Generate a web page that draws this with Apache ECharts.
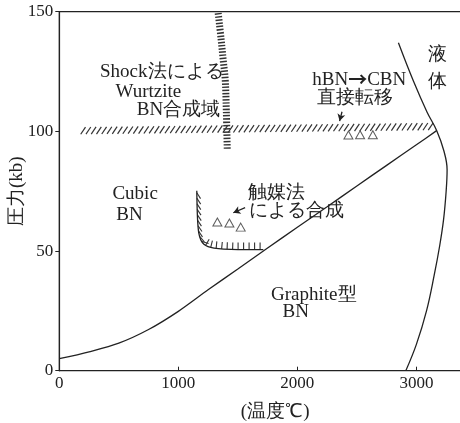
<!DOCTYPE html>
<html>
<head>
<meta charset="utf-8">
<script src="https://cdn.jsdelivr.net/npm/echarts@6/dist/echarts.min.js"></script>
<style>
  html, body { margin: 0; padding: 0; background: #fff; }
  #chart { width: 460px; height: 423px; }
</style>
</head>
<body>
<div id="chart"></div>
<script>
// Axis ticks
const xTicks = [0, 1000, 2000, 3000];
const yTicks = [0, 50, 100, 150];

// Graphite-type / cubic BN equilibrium line (temperature °C, pressure kb)
const boundaryT = [0, 250, 500, 750, 1000, 1250, 1500, 1750, 2000, 2250, 2500, 2750, 3000, 3170];
const boundaryP = [5, 7.9, 11.5, 17.2, 24.8, 33.8, 42.5, 51.3, 59.9, 68.5, 77.2, 85.8, 94.4, 100.3];

// Melting curve (liquid region)
const meltT = [2849, 2975, 3090, 3171, 3230, 3258, 3250, 3228, 3195, 3150, 3085, 3000, 2911];
const meltP = [137, 121, 108, 100.3, 92, 84, 75, 63, 52, 40, 25, 11, 0];

// Shock-synthesis (wurtzite) limit
const shockT = [1335, 1360, 1377, 1394, 1403, 1411];
const shockP = [149.4, 138.2, 129.8, 121.5, 108.9, 92.2];

// Direct hBN -> cBN conversion band
const directT = [200, 3120];
const directP = [100.3, 102];

// Catalyst synthesis boundary
const catT = [1155, 1158, 1163, 1172, 1190, 1215, 1250, 1300, 1380, 1500, 1714];
const catP = [75.2, 68, 62, 57.5, 54.5, 52.8, 51.8, 51.2, 50.8, 50.6, 50.6];

// Experimental points
const directPtsT = [2429, 2527, 2634];
const directPtsP = [98.5, 98.6, 98.6];
const catPtsT = [1328, 1429, 1524];
const catPtsP = [62.1, 61.7, 60];

// Arrows [fromT, fromP, toT, toP]
const arrowDirect = [2375, 108.2, 2355, 104.3];
const arrowCat = [1561, 68.1, 1462, 66];

// Region labels ({a|…} marks the heavy arrow glyph)
const noteText = ['Shock法による', 'Wurtzite', 'BN合成域', 'hBN{a|→}CBN', '直接転移', '液', '体',
                  'Cubic', 'BN', '触媒法', 'による合成', 'Graphite型', 'BN'];
const noteT = [861, 748, 1001, 2520, 2483, 3177, 3177, 637, 590, 1827, 1991, 2138, 1987];
const noteP = [124.9, 116.6, 108.9, 121.5, 114, 131.9, 120.8, 73.7, 65, 74.4, 66.7, 31.6, 24.7];

const INK = '#222';
const FONT = 'Liberation Serif, serif';

const zip = (a, b) => a.map((v, i) => [v, b[i]]);

const chart = echarts.init(document.getElementById('chart'), null, { renderer: 'canvas' });

const option = {
  animation: false,
  backgroundColor: '#fff',
  grid: {
    left: 59.3, top: 11.7, bottom: 52.3, right: -4,
    containLabel: false, outerBoundsMode: 'none',
    show: true, borderColor: INK, borderWidth: 1.2
  },
  xAxis: {
    type: 'value', min: 0, max: 3400, interval: 1000,
    axisLine: { show: true, lineStyle: { color: INK, width: 1.2 } },
    axisTick: { show: true, inside: true, length: 4, lineStyle: { color: INK } },
    axisLabel: {
      color: INK, fontSize: 17, fontFamily: FONT, margin: 4, showMaxLabel: false,
      formatter: v => xTicks.includes(v) ? String(v) : ''
    },
    splitLine: { show: false },
    name: '(温度℃)', nameLocation: 'middle', nameGap: 32, nameMoveOverlap: false,
    nameTextStyle: { color: INK, fontSize: 19, fontFamily: FONT, padding: [0, 0, 0, 27] }
  },
  yAxis: {
    type: 'value', min: 0, max: 150, interval: 50,
    axisLine: { show: true, lineStyle: { color: INK, width: 1.2 } },
    axisTick: { show: true, inside: false, length: 4, lineStyle: { color: INK } },
    axisLabel: {
      color: INK, fontSize: 17, fontFamily: FONT, margin: 6,
      formatter: v => yTicks.includes(v) ? String(v) : ''
    },
    splitLine: { show: false },
    name: '圧力(kb)', nameLocation: 'middle', nameRotate: 90, nameGap: 33, nameMoveOverlap: false,
    nameTextStyle: { color: INK, fontSize: 19, fontFamily: FONT }
  },
  series: [
    {
      type: 'line', data: zip(boundaryT, boundaryP), smooth: 0.3, showSymbol: false,
      lineStyle: { color: INK, width: 1.3 }
    },
    {
      type: 'line', data: zip(meltT, meltP), smooth: 0.4, showSymbol: false,
      lineStyle: { color: INK, width: 1.3 }
    },
    {
      // shock limit: thick dashed stroke gives the stack of short bars
      type: 'line', data: zip(shockT, shockP), smooth: 0.4, showSymbol: false,
      lineStyle: { color: '#333', width: 7, type: [1.5, 1.7], cap: 'butt' }
    },
    {
      // direct conversion band, drawn as slanted hatch strokes
      type: 'custom', coordinateSystem: 'cartesian2d',
      data: [[directT[0], directP[0], directT[1], directP[1]]],
      encode: { x: [0, 2], y: [1, 3] },
      renderItem(params, api) {
        const a = api.coord([api.value(0), api.value(1)]);
        const b = api.coord([api.value(2), api.value(3)]);
        const len = Math.hypot(b[0] - a[0], b[1] - a[1]);
        const n = Math.floor(len / 5.2);
        const children = [];
        for (let i = 0; i <= n; i++) {
          const f = i / n;
          const x = a[0] + (b[0] - a[0]) * f;
          const y = a[1] + (b[1] - a[1]) * f;
          children.push({
            type: 'line',
            shape: { x1: x - 2.4, y1: y + 3.6, x2: x + 2.4, y2: y - 3.6 },
            style: { stroke: '#333', lineWidth: 1.2 }
          });
        }
        return { type: 'group', children };
      }
    },
    {
      type: 'line', data: zip(catT, catP), smooth: 0.3, showSymbol: false,
      lineStyle: { color: INK, width: 1.3 }
    },
    {
      // hatch ticks on the inner side of the catalyst boundary
      type: 'custom', coordinateSystem: 'cartesian2d',
      data: [[catT[0], catP[0]]],
      renderItem(params, api) {
        const pts = catT.map((t, i) => api.coord([t, catP[i]]));
        const children = [];
        const step = 5.5;
        let carry = 2;
        for (let s = 0; s < pts.length - 1; s++) {
          const p = pts[s], q = pts[s + 1];
          const dx = q[0] - p[0], dy = q[1] - p[1];
          const L = Math.hypot(dx, dy);
          const tx = dx / L, ty = dy / L;
          let nx = ty, ny = -tx;
          const w = Math.max(0, (nx - 0.6) / 0.4);
          ny += 1.6 * w;
          const nl = Math.hypot(nx, ny);
          nx /= nl; ny /= nl;
          let d = carry;
          while (d < L) {
            const x = p[0] + tx * d, y = p[1] + ty * d;
            children.push({
              type: 'line',
              shape: { x1: x, y1: y, x2: x + nx * 7, y2: y + ny * 7 },
              style: { stroke: '#333', lineWidth: 1.1 }
            });
            d += step;
          }
          carry = d - L;
        }
        return { type: 'group', children };
      }
    },
    {
      type: 'scatter', data: zip(directPtsT, directPtsP).concat(zip(catPtsT, catPtsP)),
      symbol: 'triangle', symbolSize: [9, 8],
      itemStyle: { color: '#fff', borderColor: '#333', borderWidth: 1 }
    },
    {
      type: 'line', data: [], silent: true,
      markLine: {
        silent: true, symbol: ['none', 'arrow'], symbolSize: [6, 7],
        label: { show: false },
        lineStyle: { color: INK, width: 1.3, type: 'solid' },
        data: [
          [{ coord: [arrowDirect[0], arrowDirect[1]] }, { coord: [arrowDirect[2], arrowDirect[3]] }],
          [{ coord: [arrowCat[0], arrowCat[1]] }, { coord: [arrowCat[2], arrowCat[3]] }]
        ]
      }
    },
    {
      type: 'custom', coordinateSystem: 'cartesian2d',
      data: noteText.map((s, i) => [noteT[i], noteP[i], i]),
      renderItem(params, api) {
        const c = api.coord([api.value(0), api.value(1)]);
        return {
          type: 'text', x: c[0], y: c[1],
          style: {
            text: noteText[api.value(2)], fill: INK, fontSize: 19, fontFamily: FONT,
            align: 'center', verticalAlign: 'middle',
            rich: {
              a: { fontSize: 19, fontFamily: 'Noto Sans CJK JP', fontWeight: 'bold', fill: INK }
            }
          }
        };
      }
    }
  ]
};

chart.setOption(option);
</script>
</body>
</html>
